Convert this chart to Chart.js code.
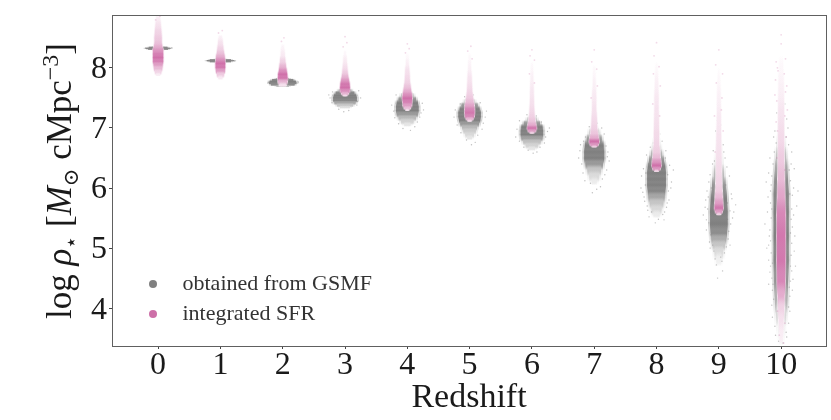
<!DOCTYPE html>
<html><head><meta charset="utf-8">
<style>html,body{margin:0;padding:0;background:#fff}#w{width:831px;height:420px;position:relative}</style>
<script src="https://cdn.jsdelivr.net/npm/chart.js@4/dist/chart.umd.min.js"></script>
</head><body><div id="w"><canvas id="c" width="831" height="420"></canvas></div>
<script>
const redshifts=[0,1,2,3,4,5,6,7,8,9,10];
const yTicks=[4,5,6,7,8];
const gsmfLabel='obtained from GSMF', sfrLabel='integrated SFR';
const xTitle='Redshift';
const yTitleRuns=['log ','ρ','⋆',' [','M','⊙',' cMpc','−3',']'];

// Each cloud is read as horizontal bands: band edges in log rho, half width in redshift units, density 0..1
const gsmfEdges=[
[8.37,8.35,8.335,8.32,8.305,8.285],
[8.16,8.14,8.125,8.11,8.095,8.075],
[7.84,7.81,7.785,7.76,7.735,7.71,7.68],
[7.68,7.64,7.6,7.56,7.52,7.48,7.44,7.4,7.36,7.32],
[7.62,7.56,7.5,7.44,7.38,7.32,7.26,7.2,7.14,7.08,7.02],
[7.52,7.46,7.4,7.34,7.28,7.22,7.16,7.1,7.04,6.98,6.92,6.86,6.8],
[7.22,7.16,7.1,7.04,6.98,6.92,6.86,6.8,6.74,6.68,6.62],
[7.05,6.95,6.85,6.75,6.65,6.55,6.45,6.35,6.25,6.15,6.05],
[6.9,6.8,6.7,6.6,6.5,6.4,6.3,6.2,6.1,6.0,5.9,5.8,5.7,5.6,5.5],
[6.9,6.7,6.5,6.3,6.1,5.9,5.7,5.5,5.3,5.2,5.1,5.0,4.9,4.7],
[7.4,7.0,6.8,6.6,6.4,6.2,6.0,5.8,5.4,5.0,4.6,4.3,4.0,3.8,3.6,3.38]];
const gsmfSpread=[
[.07,.15,.2,.16,.07],
[.08,.17,.22,.17,.08],
[.1,.17,.21,.22,.19,.1],
[.05,.1,.15,.18,.19,.19,.17,.13,.08],
[.05,.1,.14,.17,.18,.18,.17,.14,.1,.05],
[.04,.08,.13,.16,.18,.18,.17,.15,.12,.1,.07,.04],
[.04,.08,.13,.17,.18,.18,.17,.14,.1,.05],
[.04,.08,.12,.15,.16,.16,.14,.11,.08,.04],
[.02,.04,.06,.09,.12,.14,.15,.15,.15,.14,.13,.11,.08,.05],
[.015,.03,.05,.08,.11,.13,.14,.14,.13,.12,.1,.07,.04],
[.02,.03,.05,.08,.1,.11,.12,.12,.12,.12,.11,.1,.08,.05,.03]];
const gsmfDensity=[
[.5,.95,1,.95,.5],
[.5,.95,1,.95,.5],
[.7,1,1,1,.9,.55],
[.35,.7,.95,1,1,.95,.7,.45,.25],
[.25,.5,.85,1,1,1,.8,.55,.35,.2],
[.25,.45,.8,1,1,1,1,.8,.55,.4,.3,.2],
[.25,.45,.8,1,1,1,.75,.5,.35,.2],
[.2,.45,.8,1,1,1,.8,.45,.28,.15],
[.1,.2,.35,.6,.85,1,1,1,1,.95,.7,.45,.3,.15],
[.08,.15,.3,.55,.85,1,1,1,.9,.65,.45,.28,.12],
[.08,.2,.35,.5,.7,.9,.95,1,1,.95,.85,.6,.3,.15,.08]];

const sfrEdges=[
[8.88,8.75,8.65,8.55,8.45,8.38,8.32,8.26,8.2,8.14,8.08,8.02,7.96,7.9,7.86],
[8.55,8.45,8.35,8.28,8.22,8.16,8.1,8.04,7.98,7.92,7.86,7.8],
[8.4,8.25,8.15,8.05,7.98,7.92,7.86,7.8,7.74,7.68],
[8.3,8.15,8.05,7.95,7.88,7.82,7.76,7.7,7.64,7.59,7.55,7.52],
[8.25,8.1,8.0,7.9,7.8,7.72,7.65,7.58,7.52,7.46,7.4,7.35,7.31,7.28],
[8.25,8.05,7.9,7.75,7.65,7.55,7.47,7.4,7.34,7.28,7.22,7.17,7.13,7.1],
[8.1,7.9,7.7,7.5,7.35,7.25,7.15,7.08,7.02,6.97,6.93,6.9],
[8.05,7.8,7.6,7.4,7.2,7.05,6.95,6.87,6.8,6.74,6.7,6.67],
[8.1,7.8,7.6,7.4,7.2,7.0,6.8,6.65,6.55,6.47,6.4,6.34,6.3,6.26],
[8.0,7.6,7.3,7.0,6.7,6.4,6.15,6.0,5.9,5.8,5.7,5.63,5.58,5.54],
[8.2,7.8,7.4,7.0,6.6,6.3,6.0,5.7,5.4,5.0,4.6,4.3,4.1,3.9,3.7,3.4]];
const sfrSpread=[
[.03,.04,.05,.055,.055,.065,.08,.08,.08,.08,.07,.065,.05,.03],
[.025,.035,.045,.055,.065,.07,.075,.075,.07,.055,.03],
[.02,.03,.04,.05,.06,.07,.075,.07,.05],
[.015,.025,.035,.04,.05,.06,.07,.075,.07,.05,.025],
[.015,.02,.03,.035,.04,.05,.06,.07,.075,.07,.065,.045,.02],
[.015,.02,.03,.035,.04,.05,.06,.07,.075,.075,.07,.05,.025],
[.015,.02,.025,.03,.035,.04,.05,.06,.07,.055,.025],
[.015,.02,.03,.03,.04,.045,.055,.065,.075,.06,.03],
[.015,.025,.03,.03,.035,.04,.04,.05,.055,.065,.07,.055,.025],
[.015,.025,.03,.035,.04,.04,.045,.05,.055,.06,.065,.05,.025],
[.03,.04,.045,.045,.045,.05,.055,.065,.065,.065,.06,.05,.045,.035,.025]];
const sfrDensity=[
[.12,.2,.28,.35,.42,.55,.7,.85,.95,.85,.65,.45,.28,.12],
[.1,.2,.3,.4,.55,.75,.95,.9,.65,.35,.15],
[.08,.15,.3,.5,.75,.95,.9,.5,.2],
[.06,.14,.22,.35,.5,.7,.9,.95,.75,.5,.25],
[.05,.12,.2,.25,.3,.4,.55,.75,.95,.85,.65,.45,.2],
[.05,.1,.18,.22,.28,.35,.45,.6,.8,.9,.8,.5,.25],
[.05,.1,.16,.2,.25,.3,.38,.55,.9,.65,.3],
[.05,.1,.15,.2,.25,.3,.38,.55,.95,.7,.35],
[.05,.1,.15,.18,.2,.24,.28,.33,.45,.7,.95,.7,.3],
[.05,.1,.15,.18,.2,.24,.28,.33,.45,.65,.9,.65,.3],
[.05,.1,.18,.25,.35,.45,.6,.8,.9,.9,.8,.55,.3,.2,.12]];

// Stray individual samples read around the clouds: [redshift position, log rho]
const gsmfStrays=[
[-.2,8.33],[.22,8.335],[.8,8.12],[1.23,8.115],[1.77,7.755],[2.25,7.765],
[2.76,7.5],[3.22,7.62],[2.79,7.42],[3.19,7.38],[3.06,7.29],[2.9,7.31],[3.25,7.5],[2.74,7.55],[2.8,7.6],[3.2,7.44],[2.98,7.27],
[3.78,7.28],[4.24,7.41],[3.82,7.55],[4.2,7.18],[4.12,7.02],[3.93,6.99],[4.05,6.96],[3.75,7.38],[4.26,7.3],[3.8,7.17],[4.22,7.25],[3.86,7.07],[4.16,7.1],[3.96,7.62],
[4.77,7.3],[5.25,7.18],[4.8,7.05],[5.2,6.98],[5.09,6.76],[4.95,6.8],[5.03,6.72],[4.85,7.4],[5.17,7.42],[5.27,7.28],[4.75,7.18],[5.22,7.08],[4.86,6.92],[5.13,6.88],[4.92,7.52],[5.06,7.55],
[5.76,6.98],[6.25,6.94],[5.8,7.12],[6.2,6.75],[6.08,6.6],[5.94,6.63],[6.02,6.58],[6.15,7.1],[5.74,6.85],[6.28,7.0],[5.8,6.78],[6.22,6.85],[5.87,6.68],[6.13,6.68],[5.92,7.22],[6.07,7.2],
[6.78,6.72],[7.22,6.6],[6.82,6.25],[7.2,6.3],[7.1,6.02],[6.94,6.08],[7.04,5.98],[6.86,6.85],[7.16,6.9],[6.75,6.5],[7.24,6.45],[7.05,7.08],[6.8,6.4],[7.19,6.7],[6.85,6.12],[7.13,6.15],[6.97,5.92],[6.92,7.02],[7.12,7.0],[6.77,6.62],[7.21,6.52],[6.83,6.78],[7.17,6.22],
[7.76,6.2],[8.24,6.1],[7.8,5.85],[8.2,5.8],[8.1,5.56],[7.92,5.6],[8.03,5.48],[7.87,6.4],[8.14,6.5],[7.95,6.75],[8.05,6.9],[7.75,6.0],[8.27,6.3],[7.85,5.7],[8.16,5.68],
[7.79,6.32],[8.21,6.38],[7.82,6.05],[8.19,5.95],[7.84,6.55],[8.15,6.62],[7.88,5.52],[8.12,5.47],[7.78,5.93],[8.23,6.0],[7.9,6.68],[8.09,6.78],[7.83,6.25],[8.18,6.22],[7.81,5.78],[8.17,5.75],[7.86,5.63],[8.13,5.6],[7.98,5.42],[8.01,6.98],
[8.79,5.8],[9.22,5.5],[8.8,5.3],[9.2,5.9],[9.12,5.02],[8.9,5.05],[9.03,4.85],[8.96,4.72],[9.06,4.62],[8.84,6.1],[9.17,6.2],[8.93,6.45],[9.08,6.6],[8.97,6.8],[9.27,5.72],[8.75,5.55],[8.85,5.1],[9.15,5.15],[8.98,4.5],
[8.82,5.65],[9.18,5.62],[8.81,5.95],[9.19,5.4],[8.84,5.42],[9.16,5.28],[8.87,5.22],[9.14,5.75],[8.86,6.22],[9.13,6.35],[8.9,6.4],[9.1,6.5],[8.88,6.0],[9.11,6.05],[8.83,5.85],[9.21,5.82],[8.92,4.95],[9.09,4.92],[8.94,4.82],[9.05,4.78],[8.78,5.68],[9.24,5.6],[8.91,6.62],[9.07,6.72],[8.95,6.95],[9.03,7.05],[8.86,5.0],[9.14,5.48],[8.8,5.47],[9.18,5.05],
[9.78,5.6],[10.22,5.2],[9.8,4.8],[10.2,6.0],[9.76,6.1],[10.25,5.7],[9.82,6.5],[10.17,6.6],[9.88,6.85],[10.11,7.0],[9.93,7.25],[10.06,7.4],[9.8,4.4],[10.18,4.3],[9.85,4.05],[10.14,3.95],[9.9,3.7],[10.08,3.6],[9.96,3.45],[10.03,3.42],[9.77,5.0],[10.23,4.7],[9.74,5.4],[10.27,5.95],
[9.83,5.75],[10.17,5.65],[9.84,5.5],[10.16,5.48],[9.82,5.3],[10.18,5.35],[9.83,5.12],[10.17,5.08],[9.84,4.92],[10.16,4.88],[9.83,4.7],[10.17,4.62],[9.85,4.5],[10.15,4.45],[9.86,4.3],[10.14,4.2],[9.88,4.15],[10.12,4.02],[9.83,5.95],[10.18,5.88],[9.85,6.2],[10.15,6.12],[9.87,6.4],[10.13,6.3],[9.89,6.6],[10.12,6.72],[9.8,6.25],[10.21,6.32],[9.79,5.85],[10.2,5.55],[9.81,5.2],[10.21,4.95],[9.82,4.6],[10.19,4.48],[9.86,3.85],[10.12,3.75],[9.91,3.55],[10.09,3.52],[9.9,6.95],[10.09,7.15],[9.92,6.75],[10.08,6.85],
[9.8,5.05],[10.15,5.25],[9.85,5.65],[10.14,5.9],[9.84,6.05],[10.16,6.4],[9.86,4.75],[10.15,4.7],[9.87,4.4],[10.13,4.35]];
const sfrStrays=[
[0.03,8.86],[-0.04,8.8],[1.03,8.62],[0.97,8.58],[2.02,8.5],[1.98,8.44],[3.03,8.42],[2.97,8.35],[3,8.52],
[4.03,8.32],[3.97,8.25],[4,8.4],[5.02,8.36],[4.97,8.28],[5.04,8.15],[5.97,8.2],[6.04,8.13],[6,8.3],[5.96,7.9],[6.04,7.75],
[6.96,8.1],[7.04,7.98],[7,8.3],[7.05,7.7],[6.95,7.5],[7.96,8.2],[8.04,8.02],[8,8.42],[8.06,7.7],[7.94,7.4],[7.95,7.9],[8.05,7.2],
[8.95,8.05],[9.06,7.9],[9,8.3],[9.05,7.5],[8.93,7.2],[9.07,6.95],[8.94,6.6],[8.96,7.75],[9.04,7.3],
[9.92,8.1],[10.07,8.15],[10,8.4],[9.95,7.95],[10.09,7.7],[9.9,7.55],[10.1,7.3],[9.92,7.1],[10.08,6.85],[9.93,6.5],[10.06,6.3],[10,8.55],[10.04,3.42],[9.97,3.55],[10.06,3.75],[9.94,3.95],
[9.94,8.0],[10.05,7.9],[9.91,7.8],[10.07,7.6],[9.93,7.45],[10.06,7.2],[9.94,6.95]];

const bands=(edges,spread,density)=>edges.flatMap((e,z)=>{
  const mid=spread[z].map((_,i)=>(e[i]+e[i+1])/2);
  return spread[z].map((w,i)=>({x:redshifts[z],y:mid[i],
    up:i?mid[i-1]:e[0],down:i<mid.length-1?mid[i+1]:e[i+1],w,d:density[z][i]}));});
const mix=(rgb,d,a)=>{const c=rgb.map(v=>Math.round(255+(v-255)*d));return `rgba(${c},${a})`;};
const GRAY=[128,128,128], PINK=[205,105,165];
const radius=extra=>c=>{const s=c.chart.scales.x;if(!c.raw||!s)return 1;const r=s.getPixelForValue(c.raw.w)-s.getPixelForValue(0)+extra;return Number.isFinite(r)?Math.max(.1,r):1;};
const spans=c=>{const s=c.chart.scales.y;if(!c.raw||!s)return null;const v=[s.getPixelForValue(c.raw.up),s.getPixelForValue(c.raw.y),s.getPixelForValue(c.raw.down)];return v.every(Number.isFinite)?v:null;};
const thick=c=>{const v=spans(c);if(!v)return 1;const [a,b,d]=v;return 2*Math.max(b-a,d-b);};
// every band fades out toward the centres of its neighbours, so the stack blends smoothly
const shade=(rgb,strength)=>c=>{const v=spans(c);if(!v)return 'transparent';const [a,b,d]=v,col=k=>mix(rgb,c.raw.d*strength,k);
  const g=c.chart.ctx.createLinearGradient(0,a,0,d);
  g.addColorStop(0,col(0));g.addColorStop(Math.min(1,Math.max(0,(b-a)/(d-a))),col(1));g.addColorStop(1,col(0));return g;};
const bandSet=(data,rgb,label,extra,strength,order)=>({type:'scatter',label,data,order,showLine:false,
  pointStyle:'line',pointRadius:radius(extra),pointHoverRadius:radius(extra),
  pointBorderWidth:thick,pointBorderColor:shade(rgb,strength),pointBackgroundColor:'transparent'});
const straySet=(pairs,color,order,r)=>({type:'scatter',label:'',data:pairs.map(p=>({x:p[0],y:p[1]})),order,showLine:false,
  pointStyle:'circle',pointRadius:r,pointBorderWidth:0,pointBackgroundColor:color});

const gsmfBands=bands(gsmfEdges,gsmfSpread,gsmfDensity), sfrBands=bands(sfrEdges,sfrSpread,sfrDensity);
const dot=col=>{const k=document.createElement('canvas');k.width=k.height=10;const g=k.getContext('2d');g.fillStyle=col;g.beginPath();g.arc(5,5,4,0,7);g.fill();return k;};
const legendItems=[[gsmfLabel,'rgb(128,128,128)'],[sfrLabel,'rgb(205,112,168)']];

const frame={id:'frame',afterDatasetsDraw(ch){const {left,right,top,bottom}=ch.chartArea,g=ch.ctx;g.save();g.strokeStyle='#606060';g.lineWidth=1;
  g.strokeRect(Math.round(left)+.5,Math.round(top)+.5,Math.round(right-left),Math.round(bottom-top));g.restore();},
 afterLayout(ch){const l=ch.legend;const w=l.right-l.left,h=l.bottom-l.top;l.left=126.5;l.right=l.left+w;l.top=265;l.bottom=l.top+h;},
 afterDraw(ch){const g=ch.ctx;g.save();g.translate(71,181);g.rotate(-Math.PI/2);g.textBaseline='alphabetic';g.fillStyle='#1a1a1a';
  const st=[['35px',0],['italic 35px',0],['21px',7],['35px',0],['italic 35px',0],['21px',7],['35px',0],['24px',-13],['35px',0]];
  const fnt=s=>s+' "Liberation Serif","DejaVu Serif",serif';
  let tw=0;yTitleRuns.forEach((t,i)=>{g.font=fnt(st[i][0]);tw+=g.measureText(t).width;});
  let x=-tw/2;yTitleRuns.forEach((t,i)=>{g.font=fnt(st[i][0]);g.fillText(t,x,st[i][1]);x+=g.measureText(t).width;});g.restore();}};

new Chart(document.getElementById('c'),{
 data:{datasets:[
  straySet(sfrStrays,'rgba(205,105,165,.25)',1,.9),
  bandSet(sfrBands,PINK,sfrLabel,0,1,2),
  bandSet(sfrBands,PINK,sfrLabel,0,1,3),
  bandSet(sfrBands,PINK,sfrLabel,1,.45,4),
  straySet(gsmfStrays,'rgba(128,128,128,.5)',5,.7),
  bandSet(gsmfBands,GRAY,gsmfLabel,0,1,6),
  bandSet(gsmfBands,GRAY,gsmfLabel,0,1,7),
  bandSet(gsmfBands,GRAY,gsmfLabel,2,.4,8)]},
 plugins:[frame],
 options:{responsive:false,animation:false,events:[],
  layout:{autoPadding:false,padding:{top:15,right:5,left:0,bottom:0}},
  scales:{
   x:{type:'linear',min:-.74,max:10.72,
    afterFit:s=>{s.height=74;s.paddingLeft=0;s.paddingRight=0;},
    afterBuildTicks:s=>{s.ticks=redshifts.map(v=>({value:v}));},
    grid:{display:true,drawOnChartArea:false,tickLength:3,color:'#444',tickWidth:1},
    border:{display:false},
    ticks:{maxRotation:0,autoSkip:false,padding:-3,color:'#1a1a1a',font:{family:'"Liberation Serif",serif',size:32},callback:v=>String(v)},
    title:{display:true,text:xTitle,color:'#1a1a1a',font:{family:'"Liberation Serif",serif',size:34},padding:{top:0,bottom:2}}},
   y:{type:'linear',min:3.37,max:8.88,
    afterFit:s=>{s.width=112;s.paddingTop=0;s.paddingBottom=0;},
    afterBuildTicks:s=>{s.ticks=yTicks.map(v=>({value:v}));},
    grid:{display:true,drawOnChartArea:false,tickLength:3,color:'#444',tickWidth:1},
    border:{display:false},
    ticks:{padding:2,labelOffset:2,color:'#1a1a1a',font:{family:'"Liberation Serif",serif',size:32},callback:v=>String(v)}}},
  plugins:{tooltip:{enabled:false},
   legend:{display:true,position:'chartArea',align:'start',
    labels:{usePointStyle:true,pointStyleWidth:37,boxHeight:6,padding:8,color:'#333',font:{family:'"Liberation Serif",serif',size:22},
     generateLabels:()=>legendItems.map(([text,col])=>({text,fillStyle:col,strokeStyle:col,lineWidth:0,pointStyle:dot(col),hidden:false,fontColor:'#333'}))}}}}
});
</script></body></html>
